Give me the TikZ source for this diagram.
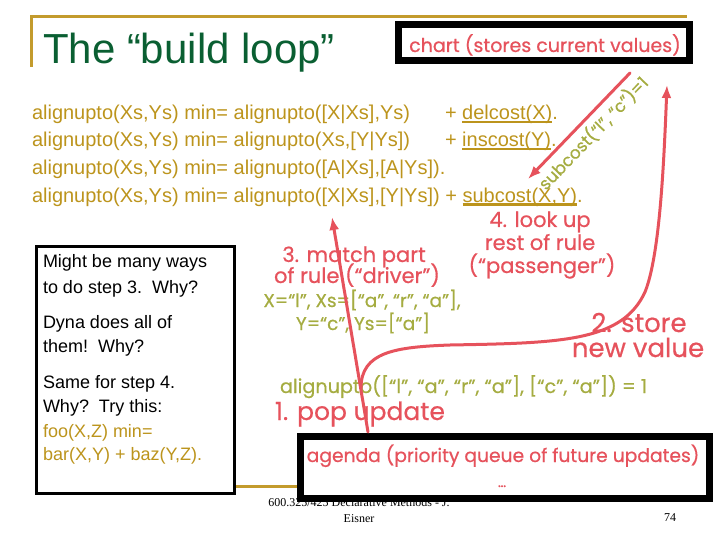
\documentclass[tikz,border=0pt]{standalone}
\usepackage{fontspec}
\setmainfont{Liberation Sans}
\newfontfamily\comic[FakeBold=0.6]{Poppins}
\newfontfamily\timesf{Liberation Serif}
\usetikzlibrary{arrows.meta}
\definecolor{gold}{RGB}{188,148,28}
\definecolor{goldline}{RGB}{195,155,45}
\definecolor{ttlgreen}{RGB}{10,95,50}
\definecolor{pinkred}{RGB}{230,82,92}
\definecolor{olive}{RGB}{165,172,65}
\newcommand\myul[2]{\setbox0\hbox{#2}\rlap{\raisebox{-3bp}{\rule{\wd0}{#1}}}\box0}
\tikzset{
  rule/.style={font=\fontsize{20bp}{24bp}\selectfont, text=gold, anchor=base west},
  boxtxt/.style={font=\fontsize{18bp}{22bp}\selectfont, anchor=base west},
  redtxt/.style={font=\comic\fontsize{21bp}{25bp}\selectfont, text=pinkred, anchor=base},
  bigred/.style={font=\comic\fontsize{26bp}{30bp}\selectfont, text=pinkred},
  olivetxt/.style={font=\comic\fontsize{18.5bp}{22bp}\selectfont, text=olive},
  redline/.style={draw=pinkred, line width=3bp, line cap=round},
  redarrow/.style={redline, -{Latex[length=13bp,width=10bp]}},
  blackbox/.style={draw=black, line width=7bp, fill=white},
  footer/.style={font=\timesf\fontsize{12bp}{14bp}\selectfont, anchor=base}
}
\begin{document}
\begin{tikzpicture}[x=1bp,y=-1bp, every node/.style={inner sep=0pt,outer sep=0pt}]
\useasboundingbox (0,0) rectangle (720,540);
% slide frame lines
\draw[goldline, line width=3bp] (30,17) -- (687,17);
\draw[goldline, line width=3bp] (31,17) -- (31,67);
\draw[goldline, line width=3bp] (236,486) -- (297,486);
% title
\node[anchor=base west, font=\fontsize{42bp}{48bp}\selectfont, text=ttlgreen] (title) at (43,64) {The “build loop”};
% chart box
\draw[blackbox] (398.5,24.5) rectangle (689.5,60.5);
\node[redtxt, font=\comic\fontsize{19bp}{22bp}\selectfont] (chart) at (545,52) {chart (stores current values)};
% rules
\node[rule] (r1) at (32,120) {alignupto(Xs,Ys) min= alignupto([X|Xs],Ys)};
\node[rule] (r1b) at (445,120) {+ \myul{1.5bp}{delcost(X)}.};
\node[rule] (r2) at (32,147) {alignupto(Xs,Ys) min= alignupto(Xs,[Y|Ys])};
\node[rule] (r2b) at (445,147) {+ \myul{1.5bp}{inscost(Y)}.};
\node[rule] (r3) at (32,175) {alignupto(Xs,Ys) min= alignupto([A|Xs],[A|Ys]).};
\node[rule] (r4) at (32,203) {alignupto(Xs,Ys) min= alignupto([X|Xs],[Y|Ys]) + \myul{3bp}{subcost(X,Y)}.};
% left box
\draw[draw=black, line width=3bp, fill=white] (36.5,246.5) rectangle (234.5,493.5);
\node[boxtxt] (b1) at (43,268) {Might be many ways};
\node[boxtxt] (b2) at (43,293) {to do step 3.\ \ Why?};
\node[boxtxt] (b3) at (43,328) {Dyna does all of};
\node[boxtxt] (b4) at (43,352) {them!\ \ Why?};
\node[boxtxt] (b5) at (43,388) {Same for step 4.};
\node[boxtxt] (b6) at (43,412) {Why?\ \ Try this:};
\node[boxtxt, text=gold] (b7) at (43,437) {foo(X,Z) min=};
\node[boxtxt, text=gold] (b8) at (43,460) {bar(X,Y) + baz(Y,Z).};
% annotations
\node[redtxt] (s4a) at (540,227) {4. look up};
\node[redtxt] (s4b) at (540,250) {rest of rule};
\node[redtxt] (s4c) at (542,273) {(“passenger”)};
\node[redtxt] (s3a) at (354,262) {3. match part};
\node[redtxt] (s3b) at (357,283) {of rule (“driver”)};
\node[olivetxt, anchor=base] (x1) at (362,307) {X=“l”, Xs=[“a”, “r”, “a”],};
\node[olivetxt, anchor=base] (x2) at (363,330) {Y=“c”, Ys=[“a”]};
\node[bigred, anchor=base] (s2a) at (639,332) {2. store};
\node[bigred, anchor=base] (s2b) at (638,357) {new value};
\node[olivetxt, anchor=base west, font=\comic\fontsize{19.2bp}{22bp}\selectfont] (upd) at (280,393) {alignupto([“l”, “a”, “r”, “a”], [“c”, “a”]) = 1};
\node[bigred, anchor=base west, font=\comic\fontsize{25bp}{30bp}\selectfont] (s1) at (275,420) {1. pop update};
\node[olivetxt, anchor=base west, rotate=46, font=\comic\fontsize{17bp}{19bp}\selectfont] (sc) at (546,191) {subcost(“l”, “c”)=1};
% footer (partly hidden by agenda box)
\node[footer] (f1) at (359,506) {600.325/425 Declarative Methods - J.};
\node[footer] (f2) at (359,522) {Eisner};
\node[footer] (f3) at (670,521) {74};
% agenda box
\draw[blackbox] (300.5,436.5) rectangle (709.5,498.5);
\node[redtxt, font=\comic\fontsize{18.7bp}{22bp}\selectfont] (agenda) at (503,462) {agenda (priority queue of future updates)};
\node[redtxt, font=\comic\fontsize{14bp}{16bp}\selectfont] (dots) at (502,487) {…};
% connectors
\coordinate (popstart) at (368,432);
\coordinate (matchtip) at (332,217);
\coordinate (chartout) at (630,73);
\coordinate (subtip) at (528,179);
\coordinate (branch) at (361,388);
\coordinate (storetip) at (667,85);
\draw[redarrow] (popstart) -- (matchtip);
\draw[redarrow] (chartout) -- (subtip);
\draw[redarrow] (branch) .. controls (361,352) and (395,347) .. (450,345)
   .. controls (560,343) and (622,342) .. (645,292)
   .. controls (660,255) and (664,160) .. (storetip);
\end{tikzpicture}
\end{document}
